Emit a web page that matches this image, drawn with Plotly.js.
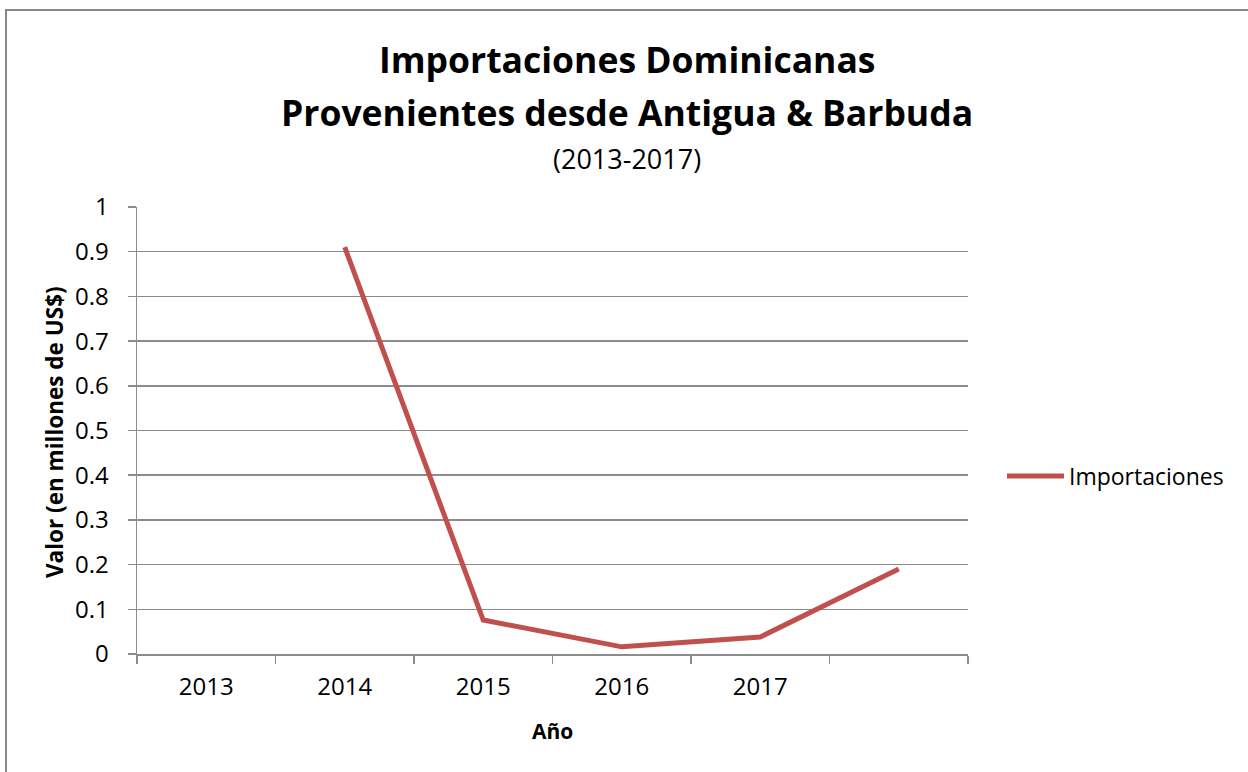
<!DOCTYPE html>
<html>
<head>
<meta charset="utf-8">
<script src="https://cdn.plot.ly/plotly-3.0.1.min.js"></script>
<style>
html,body{margin:0;padding:0;background:#fff;}
#wrap{position:relative;width:1248px;height:772px;overflow:hidden;}
#chart{position:absolute;left:0;top:0;width:1248px;height:772px;}
#frame{position:absolute;left:5px;top:9px;width:1260px;height:790px;border:2px solid #888888;pointer-events:none;}
</style>
</head>
<body>
<div id="wrap"><div id="chart"></div><div id="frame"></div></div>
<script>
const categories = ["2013", "2014", "2015", "2016", "2017", " "];
const importaciones = [null, 0.91, 0.076, 0.016, 0.038, 0.19];
const seriesName = "Importaciones";
const titleLines = ["Importaciones Dominicanas", "Provenientes desde Antigua & Barbuda"];
const subtitle = "(2013-2017)";
const xTitle = "Año";
const yTitle = "Valor (en millones de US$)";

const FONT = "'Open Sans', Lato, sans-serif";
const GRID = "#8c8c8c";
const PL = 137, PR = 968, PT = 207, PB = 654;
const px2x = v => (v - PL) / (PR - PL);
const py2y = v => 1 - (v - PT) / (PB - PT);

const trace = {
  type: "scatter",
  mode: "lines",
  x: categories,
  y: importaciones,
  name: seriesName,
  connectgaps: false,
  line: {color: "#C0504D", width: 5, shape: "linear"}
};

const titleAnn = (text, ypx, size, bold) => ({
  text: bold ? "<b>" + text + "</b>" : text,
  xref: "paper", x: px2x(627), xanchor: "center",
  yref: "paper", y: py2y(ypx), yanchor: "middle",
  showarrow: false,
  font: {family: FONT, size: size, color: "#000"}
});

const layout = {
  width: 1248,
  height: 772,
  paper_bgcolor: "#ffffff",
  plot_bgcolor: "#ffffff",
  margin: {l: PL, r: 1248 - PR, t: PT, b: 772 - PB},
  font: {family: FONT, color: "#000000", size: 23},
  annotations: [
    titleAnn(titleLines[0], 59, 35.5, true),
    titleAnn(titleLines[1], 112, 35.5, true),
    titleAnn(subtitle, 159, 27, false),
    {
      text: "<b>" + xTitle + "</b>",
      xref: "paper", x: px2x(552), xanchor: "center",
      yref: "paper", y: py2y(731), yanchor: "middle",
      showarrow: false,
      font: {family: FONT, size: 21, color: "#000"}
    },
    {
      text: "<b>" + yTitle + "</b>",
      xref: "paper", x: px2x(54), xanchor: "center",
      yref: "paper", y: py2y(432), yanchor: "middle",
      textangle: -90,
      showarrow: false,
      font: {family: FONT, size: 22.5, color: "#000"}
    }
  ],
  xaxis: {
    type: "category",
    categoryorder: "array",
    categoryarray: categories,
    range: [-0.5, categories.length - 0.5],
    tickson: "boundaries",
    ticks: "outside",
    ticklen: 8,
    tickcolor: GRID,
    tickwidth: 1.5,
    ticklabelstandoff: 11,
    showgrid: false,
    showline: true,
    linecolor: GRID,
    linewidth: 1.5,
    zeroline: false,
    tickfont: {family: FONT, size: 24, color: "#000"},
    fixedrange: true
  },
  yaxis: {
    range: [0, 1],
    dtick: 0.1,
    tick0: 0,
    ticks: "outside",
    ticklen: 8,
    tickcolor: GRID,
    tickwidth: 1.5,
    ticklabelstandoff: 14,
    showgrid: true,
    gridcolor: GRID,
    gridwidth: 1.5,
    showline: true,
    linecolor: GRID,
    linewidth: 1.5,
    zeroline: false,
    tickfont: {family: FONT, size: 24, color: "#000"},
    fixedrange: true
  },
  showlegend: true,
  legend: {
    xref: "paper", x: px2x(1002), xanchor: "left",
    yref: "paper", y: py2y(476), yanchor: "middle",
    font: {family: FONT, size: 23, color: "#000"},
    bgcolor: "rgba(0,0,0,0)",
    itemwidth: 57
  }
};

Plotly.newPlot("chart", [trace], layout, {displayModeBar: false, staticPlot: true});
</script>
</body>
</html>
